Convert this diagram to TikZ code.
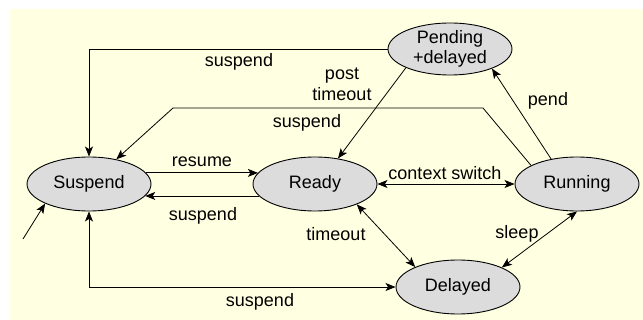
\documentclass[tikz,border=0pt]{standalone}
\usepackage{fontspec}
\setmainfont{Liberation Sans}
\usetikzlibrary{arrows.meta,shapes.geometric}
\definecolor{paper}{HTML}{FFFFE1}
\definecolor{stategray}{HTML}{DCDCDC}
\tikzset{
  state/.style={ellipse, draw=black, line width=0.9pt, fill=stategray,
    minimum width=124pt, minimum height=54pt, inner sep=0pt, align=center,
    font=\fontsize{18}{20}\selectfont},
  lbl/.style={font=\fontsize{18}{21}\selectfont, inner sep=0pt, align=center},
  arr/.style={line width=0.8pt, -{Stealth[length=10pt,width=8pt,inset=2.5pt]}},
  darr/.style={line width=0.8pt, {Stealth[length=10pt,width=8pt,inset=2.5pt]}-{Stealth[length=10pt,width=8pt,inset=2.5pt]}},
}
\begin{document}
\begin{tikzpicture}[x=1pt,y=-1pt]
\useasboundingbox (0,0) rectangle (643,320);
\fill[paper] (10,9) rectangle (643,320);

% states
\node[state] (susp)  at (89,184)  {Suspend};
\node[state] (ready) at (315,184) {Ready};
\node[state] (run)   at (577,184) {Running};
\node[state] (del)   at (458,287) {Delayed};
\node[state, minimum height=52pt] (pend) at (450,49) {Pending\\+delayed};

% bend points
\coordinate (k1) at (483,108);
\coordinate (k2) at (173,108);
\coordinate (init) at (23,239);

% transitions
\draw[arr] (pend.west) -| (susp.north);
\draw[arr] (pend.203) -- (ready.48);
\draw[arr] (run.158) -- (k1) -- (k2) -- (susp);
\draw[arr] (run.136) -- (pend.335);
\draw[arr] (susp.11) -- (ready.169);
\draw[arr] (ready.192) -- (susp.348);
\draw[darr] (ready.east) -- (run.west);
\draw[darr] (ready.-26) -- (del.155);
\draw[darr] (run.south) -- (del.24);
\draw[darr] (susp.south) |- (del.west);
\draw[arr] (init) -- (susp.204);

% transition labels
\node[lbl] (t1) at (239,62)  {suspend};
\node[lbl] (t2) at (342,84)  {post\\timeout};
\node[lbl] (t3) at (307,123) {suspend};
\node[lbl] (t4) at (548,101) {pend};
\node[lbl] (t5) at (202,162) {resume};
\node[lbl] (t6) at (203,216) {suspend};
\node[lbl] (t7) at (445,173) {context switch};
\node[lbl] (t8) at (336,234) {timeout};
\node[lbl] (t9) at (517,234) {sleep};
\node[lbl] (t10) at (260,302) {suspend};
\end{tikzpicture}
\end{document}
